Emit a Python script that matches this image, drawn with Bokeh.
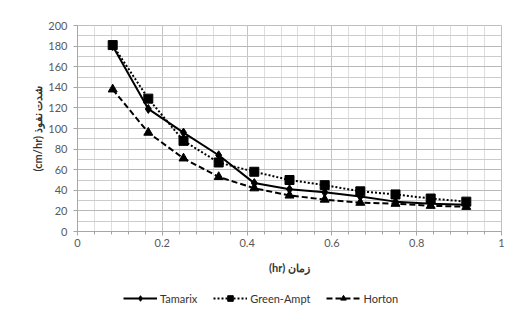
from bokeh.plotting import figure
from bokeh.layouts import column
from bokeh.models import (SingleIntervalTicker, Range1d, Legend, LegendItem,
                          CustomJSTickFormatter)
from bokeh.embed import file_html
from bokeh.resources import INLINE

# Data (time in hours, infiltration rate in cm/hr)
time_hr = [0.083, 0.167, 0.25, 0.333, 0.417, 0.5, 0.583, 0.667, 0.75, 0.833, 0.917]
tamarix = [180, 119, 96, 74, 47, 41, 38, 34, 29, 27, 26]
green_ampt = [181, 129, 88, 67, 58, 50, 45, 39, 36, 32, 29]
horton = [138, 96, 71, 53, 42, 35, 31, 28, 27, 25, 24]

series_names = ["Tamarix", "Green-Ampt", "Horton"]
x_label = "(hr) زمان"
y_label = "(cm/hr) شدت نفوذ"

FONT = "Lato"

p = figure(frame_width=424, frame_height=206, output_backend="svg",
           toolbar_location=None,
           x_range=Range1d(0, 1), y_range=Range1d(0, 200),
           min_border_left=77, min_border_right=5, min_border_top=25,
           min_border_bottom=50)
p.background_fill_color = "white"
p.border_fill_color = "white"
p.outline_line_color = "#bfbfbf"

xt = SingleIntervalTicker(interval=0.2, num_minor_ticks=5)
yt = SingleIntervalTicker(interval=20, num_minor_ticks=2)
p.xaxis.ticker = xt
p.yaxis.ticker = yt
p.xgrid.ticker = xt
p.ygrid.ticker = yt
p.xaxis.formatter = CustomJSTickFormatter(code="return String(Math.round(tick*10)/10);")

p.xgrid.grid_line_color = "#c4c4c4"
p.xgrid.minor_grid_line_color = "#dedede"
p.ygrid.grid_line_color = "#b8b8b8"
p.ygrid.minor_grid_line_color = "#cccccc"

for ax in (p.xaxis[0], p.yaxis[0]):
    ax.axis_line_color = "#a6a6a6"
    ax.major_tick_line_color = "#a6a6a6"
    ax.minor_tick_line_color = "#a6a6a6"
    ax.major_tick_out = 4
    ax.major_tick_in = 0
    ax.minor_tick_in = 0
    ax.major_label_text_font = FONT
    ax.major_label_text_font_size = "11px"
    ax.major_label_text_color = "#595959"
    ax.axis_label_text_font = FONT
    ax.axis_label_text_font_size = "11px"
    ax.axis_label_text_font_style = "bold"
    ax.axis_label_text_color = "#333333"

p.xaxis.minor_tick_out = 3
p.yaxis.minor_tick_out = 0
p.xaxis.major_label_standoff = 3
p.yaxis.major_label_standoff = 6
p.xaxis.axis_label = x_label
p.yaxis.axis_label = y_label
p.xaxis.axis_label_standoff = 11
p.yaxis.axis_label_standoff = 1


def add_series(fig):
    r = []
    r.append((fig.line(time_hr, tamarix, line_color="black", line_width=2),
              fig.scatter(time_hr, tamarix, marker="diamond", size=9, color="black")))
    r.append((fig.line(time_hr, green_ampt, line_color="black", line_width=2, line_dash="2 2"),
              fig.scatter(time_hr, green_ampt, marker="square", size=9, color="black")))
    r.append((fig.line(time_hr, horton, line_color="black", line_width=2, line_dash="6 3"),
              fig.scatter(time_hr, horton, marker="triangle", size=9, color="black")))
    return r


add_series(p)

# Legend strip below the chart (its own small figure; series lie outside its view)
lp = figure(width=506, height=39, output_backend="svg", toolbar_location=None,
            x_range=Range1d(0, 1), y_range=Range1d(-1, 0),
            x_axis_type=None, y_axis_type=None,
            min_border_left=0, min_border_right=0, min_border_top=0,
            min_border_bottom=0)
lp.outline_line_color = None
lp.xgrid.visible = False
lp.ygrid.visible = False
lp.background_fill_color = "white"
lp.border_fill_color = "white"
lr = add_series(lp)

legend = Legend(items=[
    LegendItem(label=series_names[i], renderers=list(lr[i])) for i in range(3)
], orientation="horizontal", location=(46, 15), border_line_color=None,
   background_fill_alpha=0, label_text_font=FONT, label_text_font_size="11px",
   label_text_color="#333333", glyph_width=34, label_standoff=3, spacing=16,
   padding=4, margin=0, label_height=14, glyph_height=14)
lp.add_layout(legend, "center")

layout = column(p, lp, spacing=0)
open("out.html", "w").write(file_html(layout, INLINE))
